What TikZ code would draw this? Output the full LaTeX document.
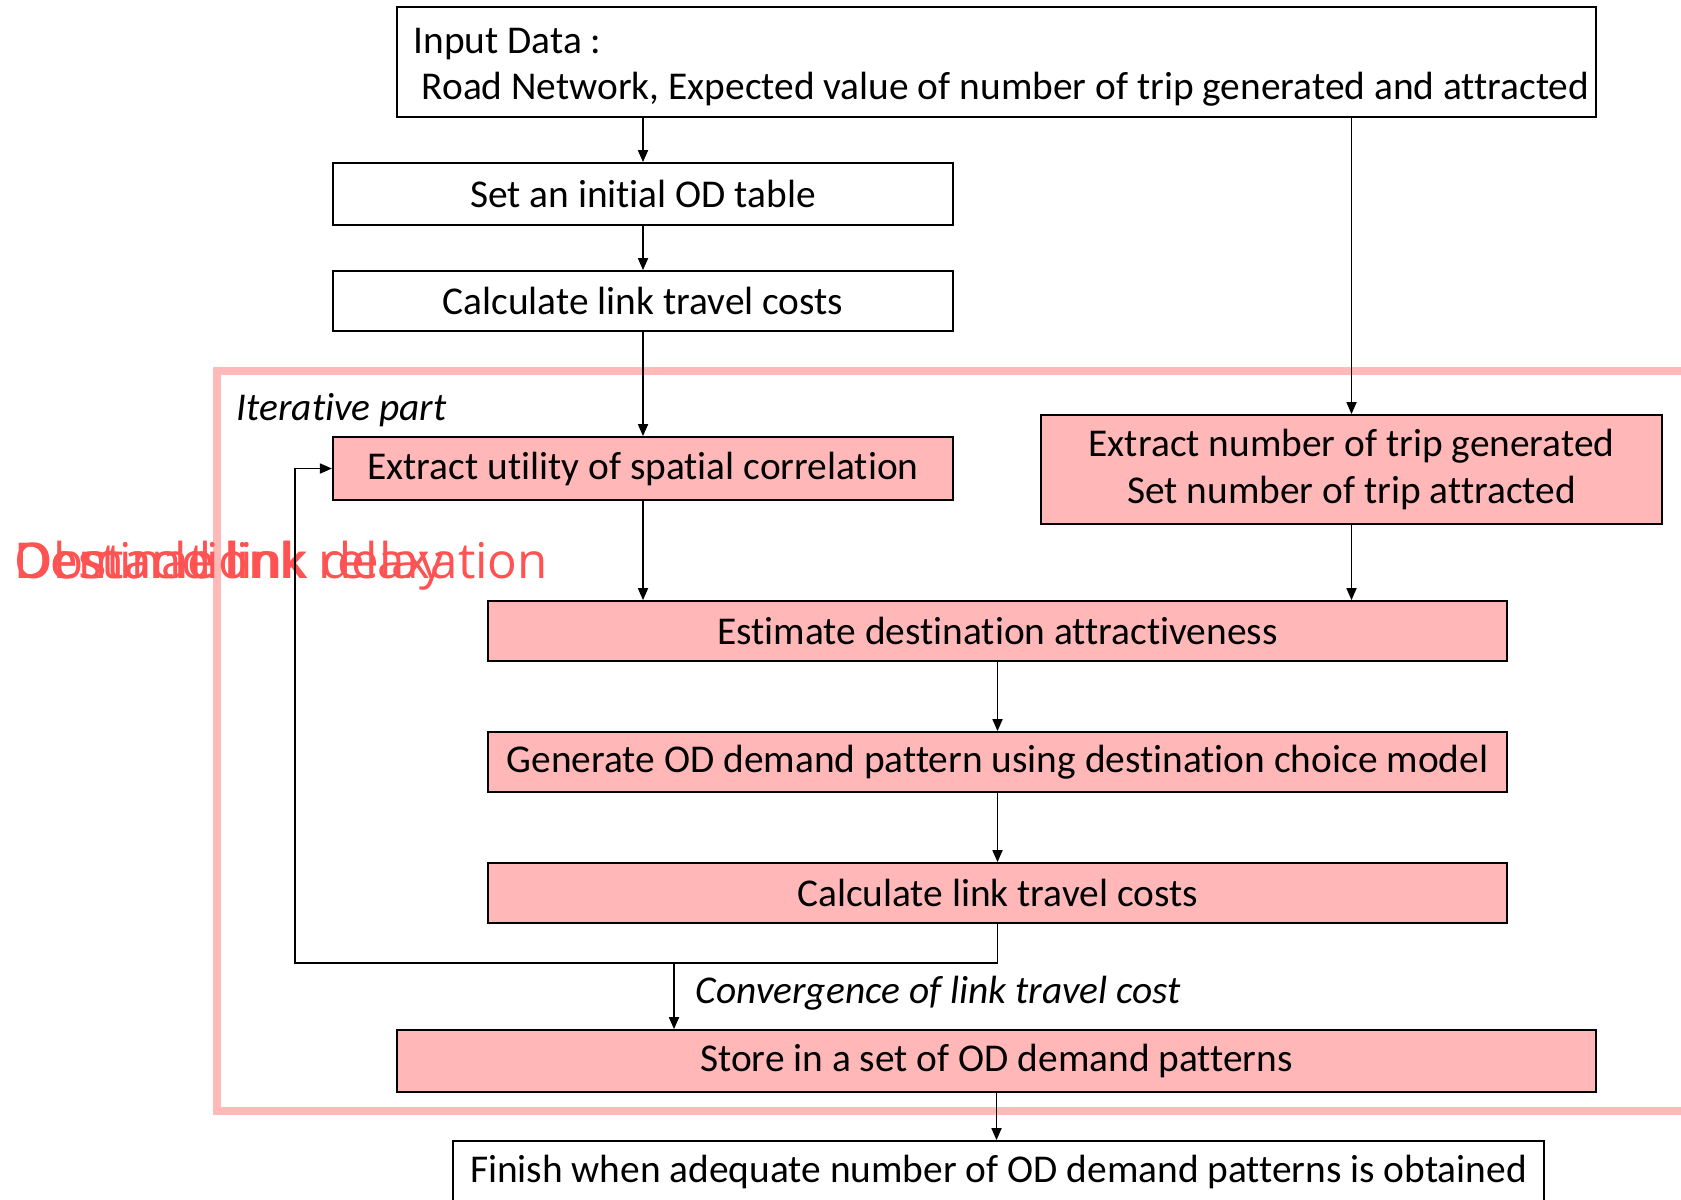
\documentclass[tikz,border=0pt]{standalone}
\usepackage{fontspec}
\setmainfont{Carlito}[Ligatures=NoCommon]
\newfontfamily\overlayfont{Open Sans}
\usetikzlibrary{arrows.meta}
\usetikzlibrary{calc}

\definecolor{boxpink}{RGB}{255,183,183}
\definecolor{framepink}{RGB}{255,185,185}
\definecolor{overlayred}{RGB}{255,82,82}

\begin{document}
\begin{tikzpicture}[x=0.01cm, y=-0.01cm]
	\tikzset{box/.style={
		rectangle, draw=black, line width=0.5pt, inner sep=0pt,
		font=\fontsize{11.2}{14}\selectfont
	}}
	\tikzset{pinkbox/.style={
		box, fill=boxpink
	}}
	\tikzset{caption/.style={
		inner sep=0pt, font=\fontsize{11.2}{14}\selectfont\itshape
	}}
	\tikzset{conn/.style={
		-{Triangle[length=1.2mm, width=1mm]}, line width=0.5pt
	}}
	\tikzset{overlay/.style={
		anchor=base west, inner sep=0pt, text=overlayred,
		font=\fontsize{14}{17}\selectfont\overlayfont
	}}

	\useasboundingbox (0,0) rectangle (1681,1199);
	\clip (0,0) rectangle (1681,1199);

	% Iterative part frame
	\draw[framepink, line width=0.08cm] (217,370.5) rectangle (1720,1111);
	\node (IterCaption) [caption, anchor=west] at (236,410) {Iterative part};

	% Input
	\node (Input) [box, minimum width=11.99cm, minimum height=1.095cm] at (996.5,62) {};
	\node (InputText) [anchor=west, align=left, inner sep=0pt, font=\fontsize{11.2}{13.2}\selectfont] at (413,67)
		{Input Data :\\\hspace*{0.08cm}Road Network, Expected value of number of trip generated and attracted};

	% Initialisation
	\node (InitOD)   [box, minimum width=6.2cm, minimum height=0.62cm] at (643,194) {Set an initial OD table};
	\node (LinkCost) [box, minimum width=6.2cm, minimum height=0.6cm]  at (643,301) {Calculate link travel costs};

	% Iteration
	\node (Utility)  [pinkbox, minimum width=6.2cm, minimum height=0.63cm] at (643,468.5) {Extract utility of spatial correlation};
	\node (TripGen)  [pinkbox, minimum width=6.21cm, minimum height=1.09cm, align=center, font=\fontsize{11.2}{13.2}\selectfont] at (1351.5,469.5)
		{Extract number of trip generated\\Set number of trip attracted};
	\node (Attract)  [pinkbox, minimum width=10.19cm, minimum height=0.6cm] at (997.5,631) {Estimate destination attractiveness};
	\node (Generate) [pinkbox, minimum width=10.19cm, minimum height=0.6cm] at (997.5,762) {Generate OD demand pattern using destination choice model};
	\node (LinkCost2)[pinkbox, minimum width=10.19cm, minimum height=0.6cm] at (997.5,893) {Calculate link travel costs};

	% Output
	\node (Store)  [pinkbox, minimum width=11.99cm, minimum height=0.62cm] at (996.5,1061) {Store in a set of OD demand patterns};
	\node (Finish) [box, fill=white, minimum width=10.91cm, minimum height=0.62cm] at (998.5,1172) {Finish when adequate number of OD demand patterns is obtained};

	% Overlapping red words
	\node (OverlayA) [overlay] at (14,578) {Destination};
	\node (OverlayB) [overlay] at (14,578) {Obstacle link delay};
	\node (OverlayC) [overlay] at (14,578) {Demand link relaxation};

	% Loop points
	\coordinate (LoopTurn)  at (295,963);
	\coordinate (ConvStart) at (674,963);

	% Main flow
	\draw[conn] (Input.south -| InitOD.north) -- (InitOD.north);
	\draw[conn] (InitOD.south) -- (LinkCost.north);
	\draw[conn] (LinkCost.south) -- (Utility.north);
	\draw[conn] (Utility.south) -- (Utility.south |- Attract.north);
	\draw[conn] (Input.south -| TripGen.north) -- (TripGen.north);
	\draw[conn] (TripGen.south) -- (TripGen.south |- Attract.north);
	\draw[conn] (Attract.south) -- (Generate.north);
	\draw[conn] (Generate.south) -- (LinkCost2.north);

	% Feedback
	\draw[conn] (LinkCost2.south) |- (LoopTurn) |- (Utility.west);

	% Convergence
	\draw[conn] (ConvStart) -- (ConvStart |- Store.north);
	\node (ConvCaption) [caption, anchor=west] at (695,993) {Convergence of link travel cost};
	\draw[conn] (Store.south) -- (Store.south |- Finish.north);
\end{tikzpicture}
\end{document}
